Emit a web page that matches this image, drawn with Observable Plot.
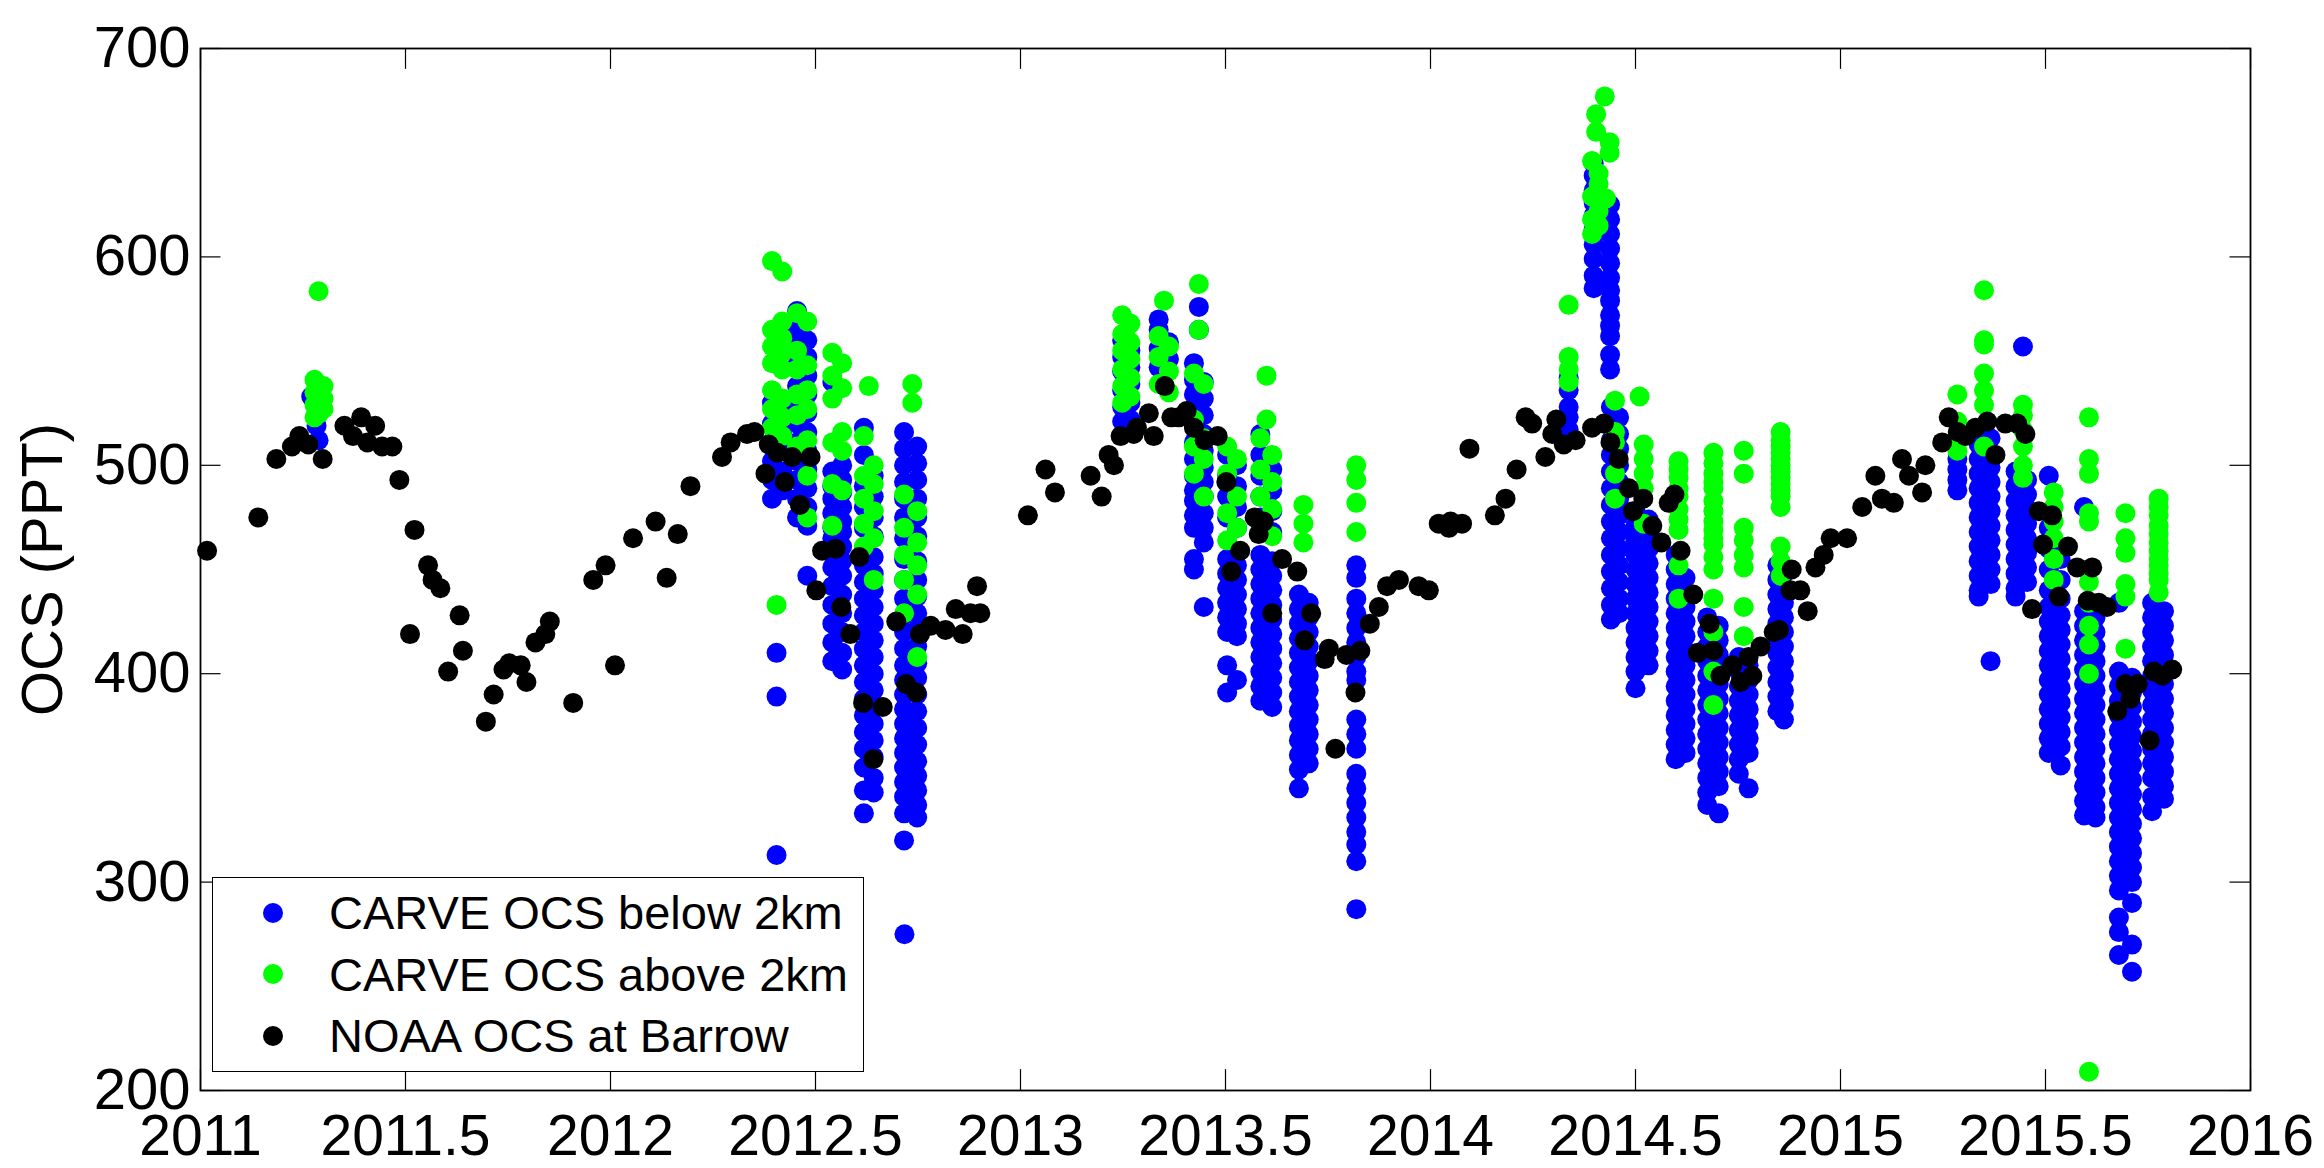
<!DOCTYPE html>
<html><head><meta charset="utf-8">
<script src="https://cdn.jsdelivr.net/npm/d3@7"></script>
<script src="https://cdn.jsdelivr.net/npm/@observablehq/plot@0.6"></script>
<style>
html,body{margin:0;padding:0;background:#fff;}
#chart{position:relative;width:2324px;height:1168px;font-family:"Liberation Sans",Arial,sans-serif;}
#legend{position:absolute;left:212px;top:877px;width:650px;height:189px;border:1.5px solid #000;background:#fff;padding-top:4px;}
#legend .row{display:flex;align-items:center;height:61.5px;font-size:47px;color:#000;white-space:nowrap;}
#legend .mk{width:20px;height:20px;border-radius:50%;margin-left:50px;margin-right:46px;flex:none;}
</style>
</head><body>
<div id="chart"><div id="legend"></div></div>
<script>
const xTicks = [2011, 2011.5, 2012, 2012.5, 2013, 2013.5, 2014, 2014.5, 2015, 2015.5, 2016];
const yTicks = [200, 300, 400, 500, 600, 700];
const seriesNames = ["CARVE OCS below 2km", "CARVE OCS above 2km", "NOAA OCS at Barrow"];
const seriesColors = ["#0000ff", "#00ff00", "#000000"];

// NOAA OCS at Barrow: [decimal year, ppt]
const noaa = [
[2011.016,459],[2011.141,475],[2011.185,503],[2011.223,509],[2011.241,514],[2011.263,510],[2011.298,503],
[2011.351,519],[2011.372,514],[2011.392,523],[2011.407,511],[2011.426,519],[2011.443,509],[2011.468,509],
[2011.485,493],[2011.511,419],[2011.522,469],[2011.555,452],[2011.566,445],[2011.585,441],[2011.604,401],
[2011.632,428],[2011.640,411],[2011.696,377],[2011.715,390],[2011.739,402],[2011.753,405],[2011.781,404],
[2011.795,396],[2011.817,415],[2011.841,419],[2011.852,425],[2011.909,386],[2011.958,445],[2011.988,452],
[2012.011,404],[2012.055,465],[2012.110,473],[2012.137,446],[2012.164,467],[2012.195,490],[2012.272,504],
[2012.293,511],[2012.333,515],[2012.351,516],[2012.378,496],[2012.386,510],[2012.407,506],[2012.425,492],
[2012.443,504],[2012.462,481],[2012.488,504],[2012.502,440],[2012.516,459],[2012.549,460],[2012.563,432],
[2012.585,419],[2012.607,456],[2012.616,386],[2012.641,359],[2012.664,384],[2012.697,425],[2012.721,395],
[2012.746,391],[2012.755,419],[2012.781,423],[2012.817,421],[2012.842,431],[2012.859,419],[2012.878,429],
[2012.894,442],[2012.902,429],[2013.018,476],[2013.061,498],[2013.084,487],[2013.171,495],[2013.198,485],
[2013.215,505],[2013.228,500],[2013.244,514],[2013.276,515],[2013.284,518],[2013.313,525],[2013.325,514],
[2013.352,538],[2013.368,523],[2013.386,523],[2013.405,526],[2013.423,518],[2013.449,512],[2013.481,514],
[2013.502,492],[2013.514,449],[2013.536,459],[2013.571,475],[2013.581,467],[2013.593,473],[2013.614,429],
[2013.638,455],[2013.675,449],[2013.693,416],[2013.709,429],[2013.742,407],[2013.752,412],[2013.768,364],
[2013.795,409],[2013.817,391],[2013.829,411],[2013.852,424],[2013.874,432],[2013.894,442],[2013.923,445],
[2013.971,442],[2013.996,440],[2014.020,472],[2014.045,470],[2014.049,473],[2014.077,472],[2014.095,508],
[2014.157,476],[2014.183,484],[2014.210,498],[2014.232,523],[2014.248,520],[2014.280,504],[2014.297,515],
[2014.307,522],[2014.325,510],[2014.354,512],[2014.394,518],[2014.423,520],[2014.439,511],[2014.459,503],
[2014.484,489],[2014.494,478],[2014.519,484],[2014.541,471],[2014.563,463],[2014.581,482],[2014.595,486],
[2014.610,459],[2014.641,438],[2014.652,410],[2014.681,424],[2014.690,411],[2014.707,399],[2014.736,404],
[2014.756,396],[2014.776,408],[2014.785,399],[2014.805,413],[2014.837,420],[2014.850,421],[2014.878,440],
[2014.881,450],[2014.902,440],[2014.920,430],[2014.939,451],[2014.959,457],[2014.976,465],[2015.016,465],
[2015.053,480],[2015.085,495],[2015.101,484],[2015.130,482],[2015.150,503],[2015.167,495],[2015.199,487],
[2015.207,500],[2015.248,511],[2015.264,523],[2015.286,516],[2015.305,514],[2015.329,518],[2015.358,521],
[2015.378,505],[2015.402,520],[2015.431,520],[2015.451,515],[2015.467,431],[2015.484,478],[2015.494,462],
[2015.516,476],[2015.533,437],[2015.555,461],[2015.577,451],[2015.603,435],[2015.614,451],[2015.630,434],
[2015.650,432],[2015.675,382],[2015.695,395],[2015.707,388],[2015.725,395],[2015.754,368],[2015.764,401],
[2015.785,399],[2015.809,402]
];

// CARVE below 2 km: [decimal year, [ppt values]]
const carveBelow = [
[2011.270,[533]],[2011.283,[519,527]],[2011.288,[512,525]],
[2012.405,[410,389,313]],[2012.394,[530,520,511,502,493,484]],[2012.419,[525,515,507,497,488]],
[2012.455,[574,565,557,548,538,529,520,511,502,493,484,475]],
[2012.480,[560,552,543,534,525,516,507,498,489,480,471,447]],
[2012.541,[540,497,490,484,477,470,465,458,451,442,433,424,415,406]],
[2012.565,[500,493,487,480,473,468,461,454,447,438,429,420,410,402]],
[2012.618,[518,505,490,480,470,460,452,444,436,428,420,412,404,396,388,380,372,364,355,344,333]],
[2012.642,[495,485,475,466,456,448,440,432,424,416,408,400,392,384,376,368,360,350,343]],
[2012.716,[516,508,500,492,484,475,465,455,445,436,428,420,412,404,397,390,383,376,369,362,355,348,341,333,320]],
[2012.748,[509,501,493,484,475,466,454,445,437,429,421,413,405,398,390,382,374,366,358,351,344,337,331]],
[2012.717,[275]],
[2013.248,[560,552,545,536,528,521]],[2013.268,[555,547,539,530,522]],
[2013.337,[570,565,556,547]],[2013.362,[559,551]],
[2013.435,[576,565]],
[2013.423,[549,541,534,527,519,511,503,495,488,483,476,470,455,450]],
[2013.447,[540,532,524,515,507,499,492,485,477,470,463,432]],
[2013.504,[505,495,485,475,455,448,441,434,427,420,404,391]],
[2013.528,[500,490,480,470,452,445,438,431,424,418,397]],
[2013.585,[515,505,495,485,475,457,450,443,436,429,422,415,408,401,394,387]],
[2013.614,[498,488,478,468,454,447,440,433,426,419,412,405,398,391,384]],
[2013.679,[438,431,424,417,410,403,396,389,382,375,368,361,354,345]],
[2013.703,[434,427,420,413,406,399,392,385,378,371,364,357]],
[2013.819,[452,446,436,429,422,415,408,401,397,378,371,364,352,345,338,331,324,318,310,287]],
[2014.337,[542,536,528,523,517]],
[2014.398,[645,639,632,626,620,613,606,599,591,585]],
[2014.438,[625,618,611,604,597,590,584,579,572,567,562,553,546]],
[2014.440,[528,520,512,505,497,489,481,473,465,457,449,441,433,426]],
[2014.460,[523,515,508,500,492,484,476,468,460,452,444,436,429]],
[2014.500,[478,471,464,457,450,443,436,429,422,415,408,401,393]],
[2014.532,[474,467,460,453,446,439,432,425,418,411,404]],
[2014.598,[457,450,443,436,429,422,415,408,401,394,387,380,373,366,359]],
[2014.622,[446,439,432,425,418,411,404,397,390,383,376,369,362]],
[2014.675,[427,420,413,406,399,392,385,378,371,364,357,350,343,337]],
[2014.703,[423,416,409,402,395,388,381,374,367,360,353,346,333]],
[2014.752,[408,401,394,387,380,373,366,359,352]],
[2014.776,[404,397,390,383,376,369,362,345]],
[2014.846,[452,445,438,431,424,417,410,403,396,389,382]],
[2014.862,[448,441,434,427,420,413,406,399,392,385,378]],
[2015.285,[503,498,493,488]],
[2015.337,[517,510,503,496,489,482,475,468,461,454,447,440,437]],
[2015.366,[513,506,499,492,485,478,471,464,457,450,443,406]],
[2015.445,[557]],
[2015.427,[497,490,483,476,469,462,455,448,441,437]],
[2015.455,[493,486,479,472,465,458,451,444]],
[2015.508,[495,470,460,450,440,432,425,418,411,404,397,390,383,376,369,362]],
[2015.537,[455,445,436,428,421,414,407,400,393,386,379,372,365,356]],
[2015.594,[480,430,423,416,409,402,395,388,381,374,367,360,353,346,339,332]],
[2015.622,[427,420,413,406,399,392,385,378,371,364,357,350,343,336,331]],
[2015.679,[434,401,394,387,380,373,366,359,352,345,338,331,324,317,310,303,296,283,276,265]],
[2015.711,[398,391,384,377,370,363,356,349,342,335,328,321,314,307,300,290,270,257]],
[2015.760,[434,427,420,413,406,399,392,385,378,371,364,357,350,341,334]],
[2015.789,[430,423,416,409,402,395,388,381,374,367,360,353,346,340]]
];

// CARVE above 2 km: [decimal year, [ppt values]]
const carveAbove = [
[2011.288,[583.5,524.6]],[2011.278,[541,535,529,523]],[2011.300,[538,532,527]],
[2012.394,[598,565,557,549,536,527,518]],[2012.419,[593,569,561,554,546,532,523,514]],[2012.405,[433]],
[2012.455,[573,555,546,534,524,509]],[2012.480,[569,548,536,527,512,495,475]],
[2012.541,[554,543,532,511,491,471]],[2012.565,[549,537,516,507,488]],
[2012.630,[538]],[2012.618,[514,495,484,472,461]],[2012.642,[500,491,478,465,445]],
[2012.736,[539,530]],[2012.716,[486,470,457,445,429]],[2012.748,[478,463,452,438,408]],
[2013.248,[572,563,555,546,538,530]],[2013.268,[568,559,551,542,533]],
[2013.350,[579]],[2013.337,[562,552,539]],[2013.362,[557,545,535]],
[2013.435,[587,565]],[2013.423,[544,522,509,496]],[2013.447,[539,513,503,485]],
[2013.504,[509,496,477,464]],[2013.528,[503,485,470]],
[2013.600,[543,522]],[2013.585,[513,498,485,472]],[2013.614,[505,492,479,466]],
[2013.690,[481,472,463]],
[2013.819,[500,493,482,468]],
[2014.337,[577,552,546,540]],
[2014.425,[677]],[2014.404,[668.5,660]],[2014.437,[655,650]],[2014.394,[646,629,618,611]],
[2014.428,[628]],[2014.410,[640,635,622,615]],
[2014.450,[531,516,511,496,484]],
[2014.510,[533]],[2014.520,[510,503,496,489,472]],
[2014.605,[502,498,494,489,485,479,474,469,452,436]],
[2014.690,[506,501,496,492,489,483,478,473,469,465,462,456,450,436,420,401,385]],
[2014.764,[507,496,470,464,457,451,432,418]],
[2014.854,[516,512,509,506,503,500,497,494,491,488,485,480,461,454,447]],
[2015.285,[534,521,514,507]],
[2015.350,[584,560,558,544,536,529,509]],
[2015.445,[529,524,517,509,500,494]],
[2015.520,[487,480,473,465,455,445]],
[2015.606,[523,503,496,477,473,444,434,423,414,400,209]],
[2015.695,[477,465,458,443,437,412]],
[2015.776,[484,480,476,471,467,463,459,455,452,448,445,439]]
];

const flat = cols => cols.flatMap(([d, vs]) => vs.map(v => ({date: d, ocs: v})));
const belowPts = flat(carveBelow);
const abovePts = flat(carveAbove);
const noaaPts = noaa.map(([d, v]) => ({date: d, ocs: v}));

const chart = Plot.plot({
  width: 2324,
  height: 1168,
  marginLeft: 200,
  marginRight: 74,
  marginTop: 48,
  marginBottom: 78,
  style: {fontFamily: '"Liberation Sans", Arial, sans-serif', background: "#fff", maxWidth: "none", color: "#000"},
  x: {domain: [2011, 2016]},
  y: {domain: [200, 700]},
  marks: [
    Plot.dot(belowPts, {x: "date", y: "ocs", r: 10, fill: seriesColors[0], stroke: "none"}),
    Plot.dot(abovePts, {x: "date", y: "ocs", r: 10, fill: seriesColors[1], stroke: "none"}),
    Plot.dot(noaaPts, {x: "date", y: "ocs", r: 10, fill: seriesColors[2], stroke: "none"}),
    Plot.ruleX(xTicks, {x: d => d, y1: 200, y2: 210, stroke: "#000", strokeWidth: 1.2}),
    Plot.ruleX(xTicks, {x: d => d, y1: 690, y2: 700, stroke: "#000", strokeWidth: 1.2}),
    Plot.ruleY(yTicks, {y: d => d, x1: 2011, x2: 2011.05, stroke: "#000", strokeWidth: 1.2}),
    Plot.ruleY(yTicks, {y: d => d, x1: 2015.95, x2: 2016, stroke: "#000", strokeWidth: 1.2}),
    Plot.frame({stroke: "#000", strokeWidth: 1.8}),
    Plot.axisX({ticks: xTicks, tickSize: 0, tickPadding: 24, fontSize: 57, tickFormat: d => String(d), label: null}),
    Plot.axisY({ticks: yTicks, tickSize: 0, tickPadding: 10, fontSize: 58, tickFormat: d => String(d),
      label: "OCS (PPT)", labelAnchor: "center", labelArrow: "none", labelOffset: 180})
  ]
});
const root = document.getElementById("chart");
root.insertBefore(chart, root.firstChild);

const legend = document.getElementById("legend");
seriesNames.forEach((name, i) => {
  const row = document.createElement("div");
  row.className = "row";
  const mk = document.createElement("span");
  mk.className = "mk";
  mk.style.background = seriesColors[i];
  row.appendChild(mk);
  row.appendChild(document.createTextNode(name));
  legend.appendChild(row);
});
</script>
</body></html>
